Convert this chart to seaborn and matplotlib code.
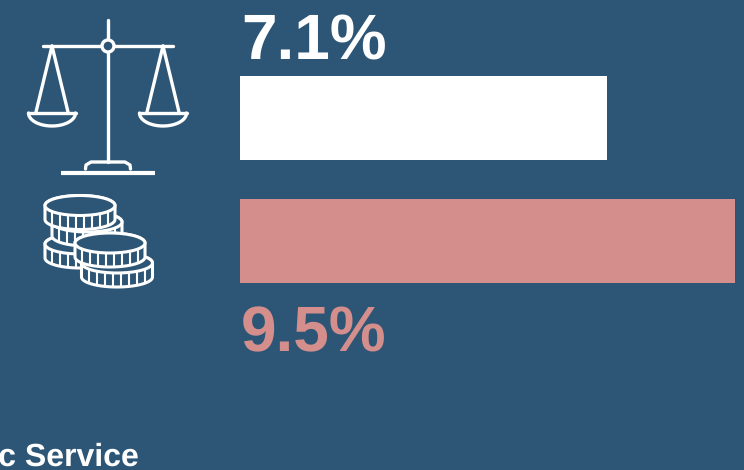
import matplotlib
matplotlib.use('Agg')
import matplotlib.pyplot as plt
from matplotlib.patches import Circle, Ellipse, Polygon
import numpy as np
import seaborn as sns

categories = ['Justice', 'Money']
shares = [7.05, 9.5]
share_labels = ['7.1%', '9.5%']
title_text = 'Public Service'

BG = '#2d5676'
PINK = '#d48f8c'
WHITE = '#ffffff'
W, H = 744, 470

sns.set_theme(style='white')
plt.rcParams['font.family'] = ['Liberation Sans', 'DejaVu Sans']
plt.rcParams['text.hinting'] = 'no_hinting'
plt.rcParams['text.kerning_factor'] = 16  # reference has no kerning in "7.1"

fig = plt.figure(figsize=(W / 100, H / 100), dpi=100, facecolor=BG)

# bars, axes covers the whole figure so the scale lines up with the picture
ax = fig.add_axes([0, 0, 1, 1])
ax.set_facecolor(BG)
sns.barplot(x=shares, y=categories, hue=categories, palette=[WHITE, PINK],
            orient='h', width=84 / 123, saturation=1, legend=False,
            linewidth=0, ax=ax)
scale = 495 / shares[1]
ax.set_xlim(-240 / scale, (W - 240) / scale)
ax.set_ylim((H - 118) / 123, -118 / 123)
ax.axis('off')

# icons and text are placed in pixel coordinates
ov = fig.add_axes([0, 0, 1, 1])
ov.set_xlim(0, W)
ov.set_ylim(H, 0)
ov.axis('off')
ov.patch.set_alpha(0)


def line(xs, ys, lw=2.4, cap='round', z=3):
    ov.plot(xs, ys, color=WHITE, lw=lw, solid_capstyle=cap, zorder=z)


def pan(cx):
    line([cx, cx - 16], [46, 112])
    line([cx, cx + 16], [46, 112])
    line([cx - 23.5, cx + 23.5], [113, 113])
    t = np.linspace(0, np.pi, 40)
    line(cx + 23.5 * np.cos(t), 113 + 13 * np.sin(t))


def scales():
    line([108, 108], [20, 162])
    line([43, 173], [46, 46])
    pan(52)
    pan(163)
    ov.add_patch(Circle((108, 46), 6, fc=BG, ec=WHITE, lw=2.4, zorder=4))
    line([61, 155], [172.5, 172.5], lw=3, cap='butt')
    line([85.5, 86, 91, 125, 130, 130.5], [169, 165, 162, 162, 165, 169])


def coin(cx, cy, rx, ry, h, z):
    t = np.linspace(0, np.pi, 60)
    xs = cx + rx * np.cos(t)
    low = cy + ry * np.sin(t)
    body = np.r_[np.c_[xs, low + h], np.c_[xs[::-1], low[::-1] - 2 * ry * np.sin(t[::-1])]]
    ov.add_patch(Polygon(body, closed=True, fc=BG, ec=WHITE, lw=2.2, zorder=z))
    ov.add_patch(Ellipse((cx, cy), 2 * rx, 2 * ry, fc=BG, ec=WHITE, lw=2.2, zorder=z))
    for dx in np.arange(-28, 29, 8):
        y0 = cy + ry * np.sqrt(1 - (dx / rx) ** 2)
        ov.plot([cx + dx, cx + dx], [y0, y0 + h], color=WHITE, lw=1.5, zorder=z)


scales()
coin(80, 244, 35, 10, 14, 5)
coin(87, 222, 35, 10, 14, 6)
coin(80, 205.5, 35, 10, 14, 7)
coin(117, 263, 35.5, 10, 14, 8)
coin(110, 243, 35, 10, 14, 9)

ov.text(241, 59.5, share_labels[0], color=WHITE, fontsize=46, fontweight='bold', ha='left', va='baseline')
ov.text(241, 351.5, share_labels[1], color=PINK, fontsize=46, fontweight='bold', ha='left', va='baseline')
ov.text(139, 466, title_text, color=WHITE, fontsize=23, fontweight='bold', ha='right', va='baseline')

fig.savefig('out.png', dpi=100, facecolor=BG)
